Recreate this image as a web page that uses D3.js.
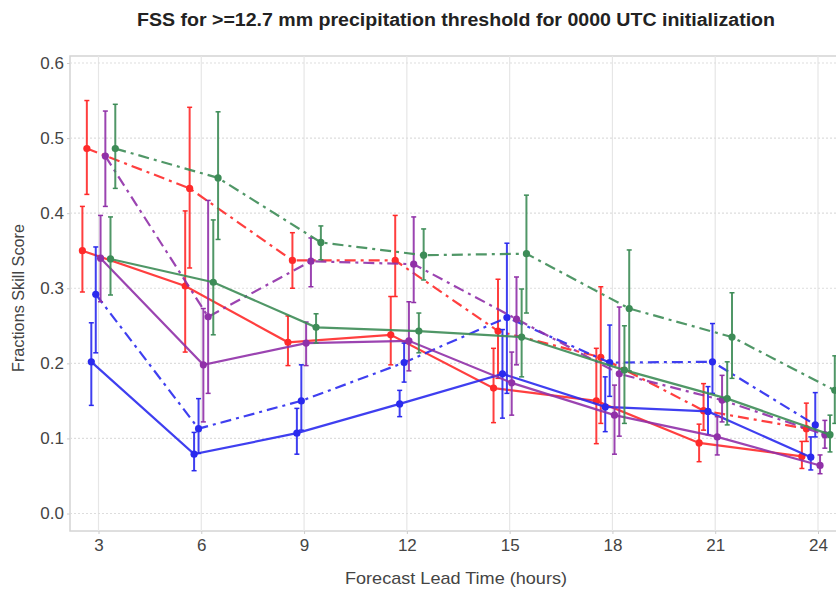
<!DOCTYPE html>
<html>
<head>
<meta charset="utf-8">
<script src="https://cdn.jsdelivr.net/npm/d3@7"></script>
<style>
  html, body { margin: 0; padding: 0; background: #fff; }
  svg { display: block; }
  text { font-family: "Liberation Sans Narrow", "Liberation Sans", Arial, sans-serif; }
</style>
</head>
<body>
<svg id="chart" width="836" height="593"></svg>
<script>
// ---- data ----
const leadHours = [3, 6, 9, 12, 15, 18, 21, 24];
const yTicks = [0.0, 0.1, 0.2, 0.3, 0.4, 0.5, 0.6];

const redSolid    = [0.350, 0.303, 0.228, 0.238, 0.167, 0.150, 0.094, 0.076];
const redSolidLo  = [0.295, 0.215, 0.197, 0.198, 0.121, 0.093, 0.069, 0.060];
const redSolidHi  = [0.409, 0.403, 0.263, 0.289, 0.220, 0.220, 0.119, 0.096];

const redDash     = [0.486, 0.433, 0.337, 0.337, 0.243, 0.208, 0.137, 0.113];
const redDashLo   = [0.425, 0.327, 0.300, 0.289, 0.180, 0.120, 0.111, 0.096];
const redDashHi   = [0.550, 0.541, 0.374, 0.397, 0.312, 0.302, 0.173, 0.147];

const blueSolid   = [0.202, 0.079, 0.107, 0.146, 0.186, 0.142, 0.136, 0.075];
const blueSolidLo = [0.144, 0.057, 0.079, 0.129, 0.127, 0.109, 0.105, 0.058];
const blueSolidHi = [0.254, 0.108, 0.140, 0.164, 0.245, 0.182, 0.169, 0.102];

const blueDash    = [0.292, 0.113, 0.150, 0.201, 0.261, 0.201, 0.202, 0.118];
const blueDashLo  = [0.214, 0.080, 0.111, 0.175, 0.160, 0.156, 0.160, 0.102];
const blueDashHi  = [0.355, 0.153, 0.198, 0.227, 0.360, 0.251, 0.253, 0.161];

const purpleSolid   = [0.340, 0.198, 0.227, 0.230, 0.174, 0.131, 0.102, 0.064];
const purpleSolidLo = [0.282, 0.122, 0.197, 0.190, 0.131, 0.079, 0.078, 0.053];
const purpleSolidHi = [0.397, 0.273, 0.255, 0.282, 0.215, 0.171, 0.129, 0.078];

const purpleDash    = [0.476, 0.262, 0.336, 0.332, 0.259, 0.186, 0.151, 0.105];
const purpleDashLo  = [0.409, 0.160, 0.302, 0.281, 0.198, 0.103, 0.122, 0.087];
const purpleDashHi  = [0.536, 0.417, 0.367, 0.395, 0.315, 0.275, 0.184, 0.124];

const greenSolid    = [0.339, 0.308, 0.248, 0.243, 0.235, 0.191, 0.153, 0.105];
const greenSolidLo  = [0.291, 0.238, 0.227, 0.214, 0.182, 0.120, 0.118, 0.082];
const greenSolidHi  = [0.395, 0.391, 0.266, 0.267, 0.299, 0.250, 0.202, 0.131];

const greenDash     = [0.486, 0.447, 0.361, 0.344, 0.346, 0.273, 0.235, 0.164];
const greenDashLo   = [0.433, 0.365, 0.338, 0.311, 0.267, 0.190, 0.180, 0.120];
const greenDashHi   = [0.545, 0.535, 0.383, 0.379, 0.424, 0.351, 0.294, 0.210];

// series definitions (dodge = horizontal offset in hours)
const series = [
  {v: redSolid,    lo: redSolidLo,    hi: redSolidHi,    color: "#ff2a2a", dash: null, dodge: -0.47},
  {v: redDash,     lo: redDashLo,     hi: redDashHi,     color: "#ff2a2a", dash: "11,5,3,5", dodge: -0.34},
  {v: blueSolid,   lo: blueSolidLo,   hi: blueSolidHi,   color: "#2a2aee", dash: null, dodge: -0.21},
  {v: blueDash,    lo: blueDashLo,    hi: blueDashHi,    color: "#2a2aee", dash: "11,5,3,5", dodge: -0.08},
  {v: purpleSolid, lo: purpleSolidLo, hi: purpleSolidHi, color: "#9030a8", dash: null, dodge: 0.06},
  {v: purpleDash,  lo: purpleDashLo,  hi: purpleDashHi,  color: "#9030a8", dash: "11,5,3,5", dodge: 0.20},
  {v: greenSolid,  lo: greenSolidLo,  hi: greenSolidHi,  color: "#3d8c57", dash: null, dodge: 0.35},
  {v: greenDash,   lo: greenDashLo,   hi: greenDashHi,   color: "#3d8c57", dash: "11,5,3,5", dodge: 0.49}
];

const FONT = "'Liberation Sans Narrow', 'Liberation Sans', Arial, sans-serif";

// ---- layout ----
const svg = d3.select("#chart");
const plot = {left: 70, top: 56, right: 845, bottom: 531};

const x = d3.scaleLinear().domain([3, 24]).range([98.5, 818]);
const y = d3.scaleLinear().domain([0, 0.6]).range([513.5, 63]);

// frame + grid
const g = svg.append("g");
g.append("rect")
  .attr("x", plot.left).attr("y", plot.top)
  .attr("width", plot.right - plot.left).attr("height", plot.bottom - plot.top)
  .attr("fill", "#fff").attr("stroke", "#d4d4d4").attr("stroke-width", 1.5);

g.selectAll("line.vgrid").data(leadHours).join("line")
  .attr("class", "vgrid")
  .attr("x1", d => x(d)).attr("x2", d => x(d))
  .attr("y1", plot.top).attr("y2", plot.bottom)
  .attr("stroke", "#e6e6e6").attr("stroke-width", 1.2);

g.selectAll("line.hgrid").data(yTicks).join("line")
  .attr("class", "hgrid")
  .attr("x1", plot.left).attr("x2", plot.right)
  .attr("y1", d => y(d)).attr("y2", d => y(d))
  .attr("stroke", "#dddddd").attr("stroke-width", 1.2)
  .attr("stroke-dasharray", "2,2");

// axes (tick labels via d3 axes)
const yAxis = d3.axisLeft(y).tickValues(yTicks).tickFormat(d3.format(".1f")).tickSize(3).tickPadding(3);
const yg = svg.append("g").attr("transform", `translate(${plot.left},0)`).call(yAxis);
yg.select(".domain").remove();
yg.selectAll(".tick line").attr("stroke", "#ccc");
yg.selectAll(".tick text").attr("font-size", 17).attr("fill", "#444")
  .attr("font-family", FONT);

const xAxis = d3.axisBottom(x).tickValues(leadHours).tickFormat(d3.format("d")).tickSize(3).tickPadding(5);
const xg = svg.append("g").attr("transform", `translate(0,${plot.bottom})`).call(xAxis);
xg.select(".domain").remove();
xg.selectAll(".tick line").attr("stroke", "#ccc");
xg.selectAll(".tick text").attr("font-size", 17).attr("fill", "#444")
  .attr("font-family", FONT);

// clip for data
svg.append("clipPath").attr("id", "clip").append("rect")
  .attr("x", plot.left).attr("y", plot.top)
  .attr("width", plot.right - plot.left).attr("height", plot.bottom - plot.top);
const dg = svg.append("g").attr("clip-path", "url(#clip)");

const line = d3.line().x(d => d[0]).y(d => d[1]);

series.forEach(s => {
  const pts = leadHours.map((h, i) => [x(h + s.dodge), y(s.v[i])]);
  const sg = dg.append("g");
  sg.append("path").datum(pts)
    .attr("d", line).attr("fill", "none")
    .attr("stroke", s.color).attr("stroke-width", 2.2)
    .attr("stroke-opacity", 0.9)
    .attr("stroke-dasharray", s.dash);
  const eb = sg.selectAll("g.eb").data(leadHours.map((h, i) => ({h, i}))).join("g");
  eb.append("line")
    .attr("x1", d => x(d.h + s.dodge)).attr("x2", d => x(d.h + s.dodge))
    .attr("y1", d => y(s.lo[d.i])).attr("y2", d => y(s.hi[d.i]))
    .attr("stroke", s.color).attr("stroke-width", 2).attr("stroke-opacity", 0.9);
  [s.lo, s.hi].forEach(arr => {
    eb.append("line")
      .attr("x1", d => x(d.h + s.dodge) - 2.5).attr("x2", d => x(d.h + s.dodge) + 2.5)
      .attr("y1", d => y(arr[d.i])).attr("y2", d => y(arr[d.i]))
      .attr("stroke", s.color).attr("stroke-width", 1.5);
  });
  sg.selectAll("circle").data(pts).join("circle")
    .attr("cx", d => d[0]).attr("cy", d => d[1]).attr("r", 3.6)
    .attr("fill", s.color);
});

// titles
svg.append("text")
  .attr("x", 456).attr("y", 26).attr("text-anchor", "middle")
  .attr("font-size", 18).attr("font-weight", "bold").attr("fill", "#222")
  .attr("font-family", FONT)
  .attr("textLength", 638).attr("lengthAdjust", "spacingAndGlyphs")
  .text("FSS for >=12.7 mm precipitation threshold for 0000 UTC initialization");

svg.append("text")
  .attr("x", 456).attr("y", 584).attr("text-anchor", "middle")
  .attr("font-size", 17).attr("fill", "#444")
  .attr("font-family", FONT)
  .attr("textLength", 222).attr("lengthAdjust", "spacingAndGlyphs")
  .text("Forecast Lead Time (hours)");

svg.append("text")
  .attr("transform", "translate(24,298) rotate(-90)")
  .attr("text-anchor", "middle")
  .attr("font-size", 17).attr("fill", "#444")
  .attr("font-family", FONT)
  .attr("textLength", 148).attr("lengthAdjust", "spacingAndGlyphs")
  .text("Fractions Skill Score");
</script>
</body>
</html>
